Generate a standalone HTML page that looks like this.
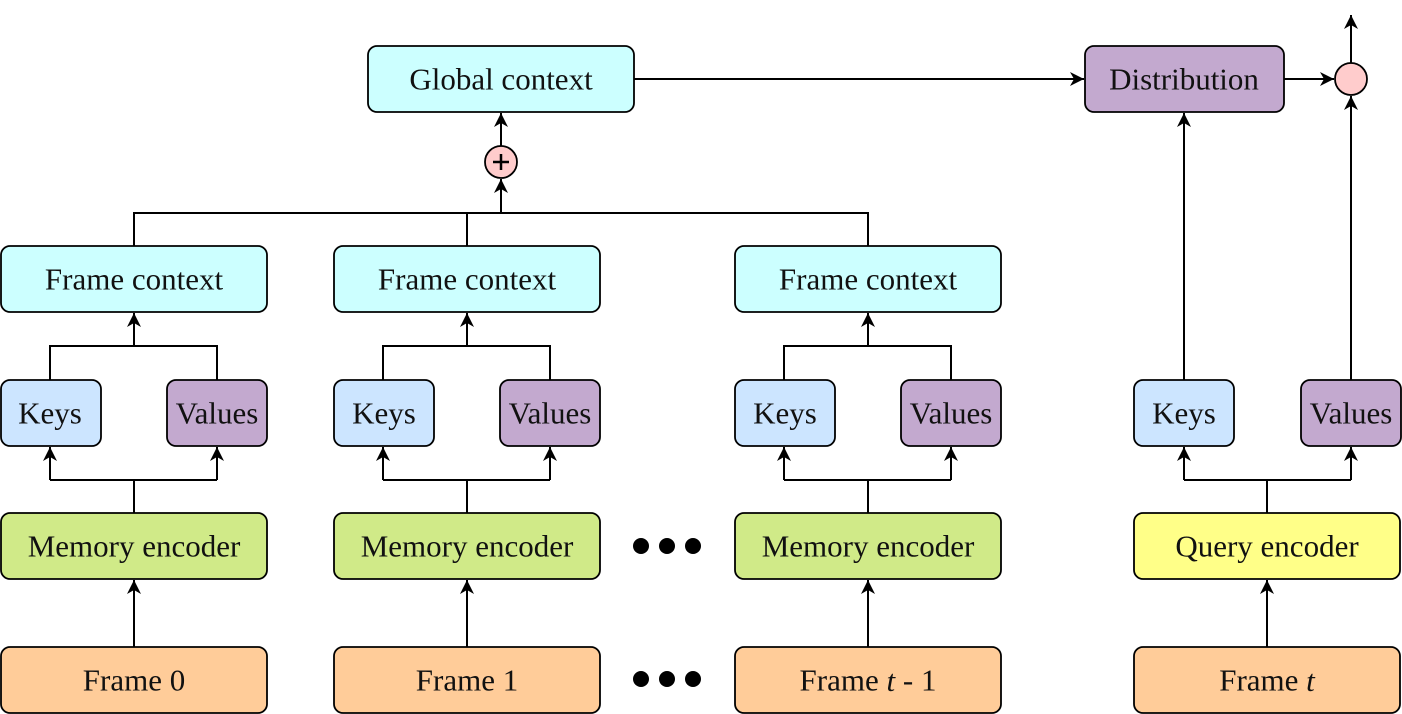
<!DOCTYPE html>
<html><head><meta charset="utf-8"><style>body{margin:0;background:#fff}svg{display:block}text{font-family:"Liberation Serif",serif;font-size:31px;text-anchor:middle;dominant-baseline:central;fill:#111}</style></head><body>
<svg width="1402" height="714" viewBox="0 0 1402 714" xmlns="http://www.w3.org/2000/svg">
<defs><marker id="a" markerWidth="16" markerHeight="16" refX="14" refY="7" orient="auto" markerUnits="userSpaceOnUse"><path d="M0,0 L14,7 L0,14 L4,7 z" fill="#000"/></marker></defs>
<g stroke="#000" stroke-width="2" fill="none">
<g id="col">
<path d="M134,647 V580" marker-end="url(#a)"/>
<path d="M134,513 V480 M50,480 H217"/>
<path d="M50,480 V447" marker-end="url(#a)"/>
<path d="M217,480 V447" marker-end="url(#a)"/>
<path d="M50,380 V346 H217 V380"/>
<path d="M134,346 V313" marker-end="url(#a)"/>
</g>
<use href="#col" x="333"/>
<use href="#col" x="734"/>
<path d="M134,246 V213 H868 V246 M467,246 V213"/>
<path d="M501,213 V179" marker-end="url(#a)"/>
<path d="M501,146 V113" marker-end="url(#a)"/>
<path d="M634,79 H1084" marker-end="url(#a)"/>
<path d="M1284,79 H1334" marker-end="url(#a)"/>
<path d="M1351,63 V15" marker-end="url(#a)"/>
<path d="M1267,647 V580" marker-end="url(#a)"/>
<path d="M1267,513 V480 H1184 M1267,480 H1351"/>
<path d="M1184,480 V447" marker-end="url(#a)"/>
<path d="M1351,480 V447" marker-end="url(#a)"/>
<path d="M1184,380 V113" marker-end="url(#a)"/>
<path d="M1351,380 V96" marker-end="url(#a)"/>
</g>
<g stroke="#000" stroke-width="1.8">
<rect x="368" y="46" width="266" height="66" rx="9" fill="#ccffff"/>
<rect x="1085" y="46" width="199" height="66" rx="9" fill="#c3a9cf"/>
<circle cx="501" cy="162" r="16" fill="#ffcccc"/>
<circle cx="1351" cy="79" r="16" fill="#ffcccc"/>
<rect x="1" y="246" width="266" height="66" rx="9" fill="#ccffff"/>
<rect x="334" y="246" width="266" height="66" rx="9" fill="#ccffff"/>
<rect x="735" y="246" width="266" height="66" rx="9" fill="#ccffff"/>
<rect x="1" y="380" width="100" height="66" rx="9" fill="#cce5ff"/>
<rect x="167" y="380" width="100" height="66" rx="9" fill="#c3a9cf"/>
<rect x="334" y="380" width="100" height="66" rx="9" fill="#cce5ff"/>
<rect x="500" y="380" width="100" height="66" rx="9" fill="#c3a9cf"/>
<rect x="735" y="380" width="100" height="66" rx="9" fill="#cce5ff"/>
<rect x="901" y="380" width="100" height="66" rx="9" fill="#c3a9cf"/>
<rect x="1134" y="380" width="100" height="66" rx="9" fill="#cce5ff"/>
<rect x="1301" y="380" width="100" height="66" rx="9" fill="#c3a9cf"/>
<rect x="1" y="513" width="266" height="66" rx="9" fill="#d0ea88"/>
<rect x="334" y="513" width="266" height="66" rx="9" fill="#d0ea88"/>
<rect x="735" y="513" width="266" height="66" rx="9" fill="#d0ea88"/>
<rect x="1134" y="513" width="266" height="66" rx="9" fill="#ffff88"/>
<rect x="1" y="647" width="266" height="66" rx="9" fill="#ffcc99"/>
<rect x="334" y="647" width="266" height="66" rx="9" fill="#ffcc99"/>
<rect x="735" y="647" width="266" height="66" rx="9" fill="#ffcc99"/>
<rect x="1134" y="647" width="266" height="66" rx="9" fill="#ffcc99"/>
</g>
<g fill="#000"><circle cx="641" cy="546" r="8"/><circle cx="667" cy="546" r="8"/><circle cx="693" cy="546" r="8"/>
<circle cx="641" cy="679" r="8"/><circle cx="667" cy="679" r="8"/><circle cx="693" cy="679" r="8"/></g>
<path d="M493,162 H509 M501,154 V170" stroke="#000" stroke-width="2.5"/>
<text x="501" y="79">Global context</text>
<text x="1184" y="79">Distribution</text>
<text x="134" y="279">Frame context</text><text x="467" y="279">Frame context</text><text x="868" y="279">Frame context</text>
<text x="50" y="413">Keys</text><text x="217" y="413">Values</text>
<text x="384" y="413">Keys</text><text x="550" y="413">Values</text>
<text x="785" y="413">Keys</text><text x="951" y="413">Values</text>
<text x="1184" y="413">Keys</text><text x="1351" y="413">Values</text>
<text x="134" y="546">Memory encoder</text><text x="467" y="546">Memory encoder</text><text x="868" y="546">Memory encoder</text>
<text x="1267" y="546">Query encoder</text>
<text x="134" y="680">Frame 0</text><text x="467" y="680">Frame 1</text>
<text x="868" y="680">Frame <tspan font-style="italic">t</tspan> - 1</text>
<text x="1267" y="680">Frame <tspan font-style="italic">t</tspan></text>
</svg>
</body></html>
